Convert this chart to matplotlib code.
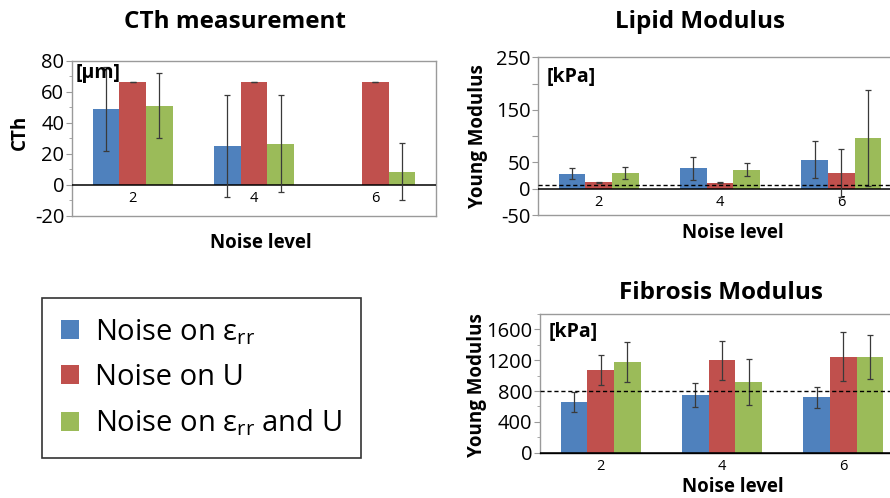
import numpy as np
import matplotlib
matplotlib.use('Agg')
import matplotlib.pyplot as plt
from matplotlib.patches import Patch

plt.rcParams['font.family'] = ['Open Sans', 'DejaVu Sans']
plt.rcParams['mathtext.fontset'] = 'custom'
plt.rcParams['mathtext.rm'] = 'Open Sans'
plt.rcParams['mathtext.it'] = 'Open Sans:italic'

# -----------------------------------------------------------------------------
# Data
# -----------------------------------------------------------------------------
niveles = ['2', '4', '6']
series = [r'Noise on ε$_{\rm rr}$', 'Noise on U', r'Noise on ε$_{\rm rr}$ and U']
colores = ['#4F81BD', '#C0504D', '#9BBB59']

# CTh [um]
cth_eps = [49, 25, np.nan]
cth_eps_err = [27, 33, np.nan]
cth_u = [66, 66, 66]
cth_u_err = [0, 0, 0]
cth_ambos = [51, 26.5, 8.5]
cth_ambos_err = [21, 31.5, 18.5]

# Lipid modulus [kPa]
lip_eps = [28.5, 38.5, 55]
lip_eps_err = [10.5, 21.5, 35]
lip_u = [12, 11, 30]
lip_u_err = [1, 1, 45]
lip_ambos = [30, 36, 96]
lip_ambos_err = [12, 12.5, 91]
lip_ref = 8

# Fibrosis modulus [kPa]
fib_eps = [657, 752, 718]
fib_eps_err = [130, 155, 138]
fib_u = [1072, 1198, 1245]
fib_u_err = [190, 255, 318]
fib_ambos = [1180, 917, 1241]
fib_ambos_err = [262, 298, 288]
fib_ref = 800

W, H = 890, 498
fig = plt.figure(figsize=(W / 100, H / 100), dpi=100)


def rect(left, top, right, bottom):
    return [left / W, 1 - bottom / H, (right - left) / W, (bottom - top) / H]


def barras(ax, valores, errores, ylim, yticks, ylabels, minor=None, ref=None):
    x = np.arange(len(niveles))
    ancho = 0.22
    for k, (v, e) in enumerate(zip(valores, errores)):
        ax.bar(x + (k - 1) * ancho, v, ancho, color=colores[k], zorder=2)
        ax.errorbar(x + (k - 1) * ancho, v, yerr=e, fmt='none', ecolor='#3a3a3a',
                    elinewidth=0.9, capsize=2.2, capthick=0.9, zorder=4)
    ax.axhline(0, color='black', lw=1.1, zorder=3)
    if ref is not None:
        ax.axhline(ref, color='black', lw=1.0, ls=(0, (3, 2)), zorder=5)
    ax.set_xlim(-0.5, 2.5)
    ax.set_ylim(*ylim)
    ax.set_yticks(yticks)
    ax.set_yticklabels(ylabels, fontsize=14.5)
    if minor is not None:
        ax.set_yticks(minor, minor=True)
    ax.set_xticks([])
    ax.tick_params(axis='y', which='both', direction='out', length=4, color='#9a9a9a', pad=1.5)
    ax.tick_params(axis='y', which='minor', length=2.5)
    for s in ax.spines.values():
        s.set_color('#9a9a9a')
        s.set_linewidth(1.0)
    for i, n in enumerate(niveles):
        ax.annotate(n, xy=(i, 0), xytext=(0, -4.5), textcoords='offset points',
                    ha='center', va='top', fontsize=10.5)


# CTh
ax1 = fig.add_axes(rect(72, 60.7, 436, 215.7))
barras(ax1, [cth_eps, cth_u, cth_ambos], [cth_eps_err, cth_u_err, cth_ambos_err],
       (-20, 80), [-20, 0, 20, 40, 60, 80], ['-20', '0', '20', '40', '60', '80'],
       minor=np.arange(-20, 81, 10))
ax1.text(0.01, 0.985, '[µm]', transform=ax1.transAxes, ha='left', va='top',
         fontsize=14, fontweight='bold', zorder=6)

# Lipid
ax2 = fig.add_axes(rect(538, 57.3, 902, 215))
lip_ticks = [-50, 0, 50, 100, 150, 200, 250]
barras(ax2, [lip_eps, lip_u, lip_ambos], [lip_eps_err, lip_u_err, lip_ambos_err],
       (-50, 250), lip_ticks, ['-50', '0', '50', '', '150', '', '250'], ref=lip_ref)
ax2.text(0.025, 0.94, '[kPa]', transform=ax2.transAxes, ha='left', va='top',
         fontsize=14, fontweight='bold')

# Fibrosis
ax3 = fig.add_axes(rect(540, 314, 904, 452.7))
barras(ax3, [fib_eps, fib_u, fib_ambos], [fib_eps_err, fib_u_err, fib_ambos_err],
       (0, 1800), [0, 400, 800, 1200, 1600], ['0', '400', '800', '1200', '1600'],
       minor=np.arange(0, 1801, 200), ref=fib_ref)
ax3.spines['bottom'].set_color('black')
ax3.text(0.025, 0.94, '[kPa]', transform=ax3.transAxes, ha='left', va='top',
         fontsize=14, fontweight='bold')

# Titles and labels
def ftext(x, y, s, **kw):
    fig.text(x / W, 1 - y / H, s, ha='center', va='center', **kw)

ftext(235, 22, 'CTh measurement', fontsize=17.5, fontweight='bold')
ftext(700, 22, 'Lipid Modulus', fontsize=17.5, fontweight='bold')
ftext(721, 293, 'Fibrosis Modulus', fontsize=17.5, fontweight='bold')
ftext(261, 243, 'Noise level', fontsize=13.5, fontweight='bold')
ftext(733, 233, 'Noise level', fontsize=13.5, fontweight='bold')
ftext(733, 487, 'Noise level', fontsize=13.5, fontweight='bold')
ftext(20, 132, 'CTh', fontsize=13.5, fontweight='bold', rotation=90)
ftext(478, 136, 'Young Modulus', fontsize=13.5, fontweight='bold', rotation=90)
ftext(477, 385, 'Young Modulus', fontsize=13.5, fontweight='bold', rotation=90)

# Legend
handles = [Patch(facecolor=c, edgecolor='none') for c in colores]
leg = fig.legend(handles, series, loc='upper left', bbox_to_anchor=(42 / W, 1 - 298 / H),
                 borderaxespad=0, fontsize=21, frameon=True, fancybox=False,
                 handlelength=0.62, handleheight=0.62, handletextpad=0.55,
                 labelspacing=0.55, borderpad=0.65)
leg.get_frame().set_edgecolor('black')
leg.get_frame().set_linewidth(1.2)

fig.savefig('out.png', dpi=100)
